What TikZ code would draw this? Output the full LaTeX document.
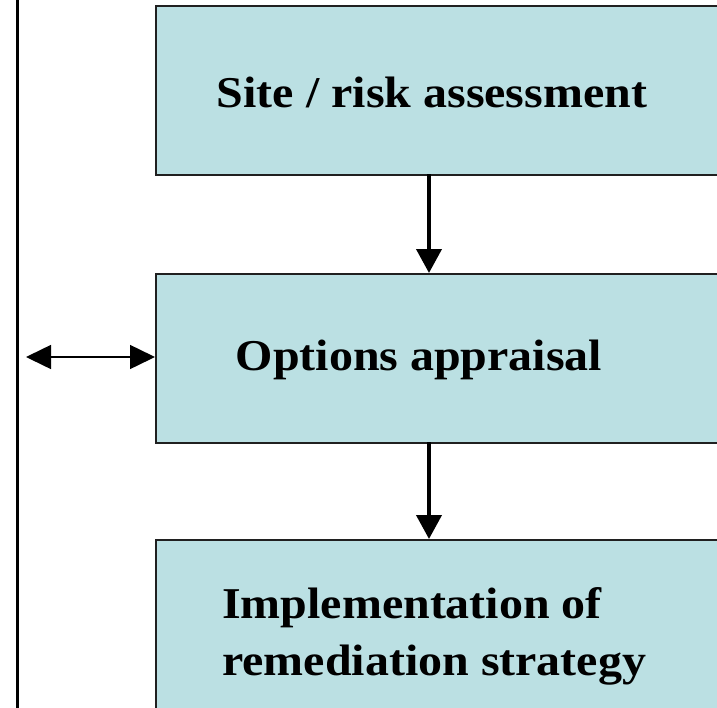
\documentclass[tikz,border=0pt]{standalone}
\usepackage{fontspec}
\setmainfont{Liberation Serif}
\newfontfamily\stagefont[FakeStretch=1.09]{Liberation Serif}
\usetikzlibrary{arrows.meta}
\definecolor{boxfill}{HTML}{BBE0E3}
\definecolor{boxline}{HTML}{202020}
\tikzset{
  stagebox/.style={draw=boxline, line width=1.5pt, fill=boxfill, rectangle, anchor=north west, inner sep=0pt},
  stagetext/.style={font=\stagefont\fontsize{44}{57}\selectfont\bfseries, inner sep=0pt, text=black},
  flowarrow/.style={line width=4pt, -{Triangle[width=25pt,length=24pt]}, shorten >=0pt},
  sidearrow/.style={line width=1.5pt, {Triangle[width=24pt,length=25pt]}-{Triangle[width=24pt,length=25pt]}},
}
\begin{document}
\begin{tikzpicture}[x=1pt,y=-1pt]
\useasboundingbox (0,0) rectangle (717,707);
\clip (0,0) rectangle (717,707);
\draw[line width=3pt] (17,-5) -- (17,712);
\node[stagebox, minimum width=600pt, minimum height=169pt] (b1) at (155,5) {};
\node[stagebox, minimum width=600pt, minimum height=169pt] (b2) at (155,273) {};
\node[stagebox, minimum width=600pt, minimum height=200pt] (b3) at (155,539) {};
\node[stagetext] (t1) at (432,92) {Site / risk assessment};
\node[stagetext] (t2) at (419,360) {Options appraisal};
\node[stagetext, align=left, anchor=west] (t3) at (222,636) {Implementation of\\remediation strategy};
\coordinate (c1) at (429,174);
\coordinate (c2) at (429,442);
\draw[flowarrow] (c1) -- (c1 |- b2.north);
\draw[flowarrow] (c2) -- (c2 |- b3.north);
\coordinate (sl) at (26,357);
\draw[sidearrow] (sl) -- (sl -| b2.west);
\end{tikzpicture}
\end{document}
